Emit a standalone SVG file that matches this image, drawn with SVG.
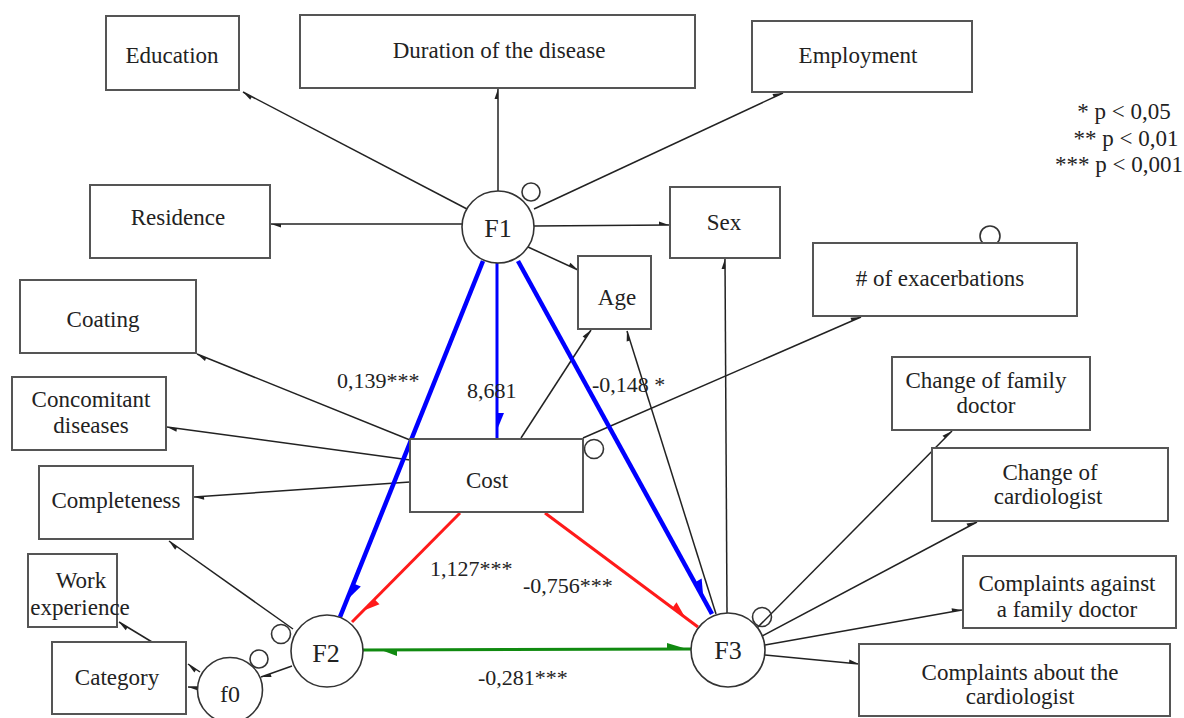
<svg xmlns="http://www.w3.org/2000/svg" width="1184" height="718" viewBox="0 0 1184 718">
<style>
.box{fill:#fff;stroke:#555;stroke-width:2}
.circ{fill:#fff;stroke:#333;stroke-width:1.6}
.loop{fill:none;stroke:#333;stroke-width:1.6}
.t{font-family:"Liberation Serif","Times New Roman",serif;font-size:23px;fill:#222;text-anchor:middle}
.c{font-size:26px}
.lbl{font-family:"Liberation Serif","Times New Roman",serif;font-size:22px;fill:#222}
.ln{stroke:#222;stroke-width:1.5;fill:none;marker-end:url(#ah)}
.blue{stroke:#0000ff;stroke-width:4.5;fill:none}
.blue2{stroke:#0000ff;stroke-width:3;fill:none}
.red{stroke:#ff1a1a;stroke-width:3;fill:none}
.green{stroke:#108a10;stroke-width:3;fill:none}
</style>
<defs>
<marker id="ah" markerUnits="userSpaceOnUse" orient="auto" overflow="visible" markerWidth="10" markerHeight="10" refX="0" refY="0"><path d="M0,0 L-10,-3.5 L-10,0 z" fill="#222"/></marker>
<marker id="bb" markerUnits="userSpaceOnUse" orient="auto" overflow="visible" markerWidth="10" markerHeight="10" refX="0" refY="0"><path d="M-18,0 L-36,-8 L-36,0 z" fill="#0000ff"/></marker>
<marker id="bm" markerUnits="userSpaceOnUse" orient="auto" overflow="visible" markerWidth="10" markerHeight="10" refX="0" refY="0"><path d="M-8,0 L-25,-7 L-25,0 z" fill="#0000ff"/></marker>
<marker id="rm" markerUnits="userSpaceOnUse" orient="auto" overflow="visible" markerWidth="10" markerHeight="10" refX="0" refY="0"><path d="M-16,0 L-32,-7 L-32,0 z" fill="#ff1a1a"/></marker>
<marker id="ge" markerUnits="userSpaceOnUse" orient="auto" overflow="visible" markerWidth="10" markerHeight="10" refX="0" refY="0"><path d="M-4,0 L-24,-6 L-24,0 z" fill="#108a10"/></marker>
<marker id="gs" markerUnits="userSpaceOnUse" orient="auto-start-reverse" overflow="visible" markerWidth="10" markerHeight="10" refX="0" refY="0"><path d="M-18,0 L-34,-6 L-34,0 z" fill="#108a10"/></marker>
</defs>

<g id="connectors">
<line class="ln" x1="467" y1="209" x2="243" y2="92"/>
<line class="ln" x1="498" y1="191" x2="498" y2="89"/>
<line class="ln" x1="534" y1="209" x2="783" y2="93"/>
<line class="ln" x1="462" y1="224" x2="271" y2="224"/>
<line class="ln" x1="534" y1="226" x2="669" y2="225"/>
<line class="ln" x1="528" y1="247" x2="578" y2="270"/>
<line class="ln" x1="410" y1="440" x2="197" y2="354"/>
<line class="ln" x1="410" y1="460" x2="167" y2="427"/>
<line class="ln" x1="410" y1="482" x2="194" y2="497"/>
<line class="ln" x1="521" y1="438" x2="591" y2="330"/>
<line class="ln" x1="583" y1="438" x2="861" y2="317"/>
<line class="ln" x1="716" y1="614" x2="627" y2="331"/>
<line class="ln" x1="727" y1="613" x2="725" y2="259"/>
<line class="ln" x1="757" y1="628" x2="952" y2="431"/>
<line class="ln" x1="762" y1="636" x2="977" y2="522"/>
<line class="ln" x1="765" y1="645" x2="962" y2="610"/>
<line class="ln" x1="765" y1="655" x2="859" y2="664"/>
<line class="ln" x1="293" y1="629" x2="169" y2="541"/>
<line class="ln" x1="152" y1="642" x2="119" y2="622"/>
<line class="ln" x1="292" y1="666" x2="261" y2="677"/>
<line class="ln" x1="200" y1="672" x2="188" y2="664"/>
<line class="ln" x1="198" y1="687" x2="188" y2="687"/>
<line class="blue" x1="483" y1="261" x2="340" y2="617" marker-end="url(#bb)"/>
<line class="blue" x1="518" y1="261" x2="712" y2="614" marker-end="url(#bb)"/>
<line class="blue2" x1="497" y1="263" x2="497" y2="438" marker-end="url(#bm)"/>
<line class="red" x1="460" y1="513" x2="352" y2="622" marker-end="url(#rm)"/>
<line class="red" x1="545" y1="513" x2="698" y2="627" marker-end="url(#rm)"/>
<line class="green" x1="363" y1="650" x2="691" y2="649" marker-start="url(#gs)" marker-end="url(#ge)"/>
</g>

<g id="loops">
<circle class="loop" cx="531" cy="192" r="9"/>
<circle class="loop" cx="594" cy="449" r="9.5"/>
<circle class="loop" cx="990" cy="236" r="10"/>
<circle class="loop" cx="762" cy="617" r="9.5"/>
<circle class="loop" cx="281" cy="634" r="9.5"/>
<circle class="loop" cx="259" cy="659" r="9"/>
</g>

<g id="education"><rect class="box" x="106" y="16" width="133" height="74"/><text class="t" x="172" y="63">Education</text></g>
<g id="duration"><rect class="box" x="300" y="15" width="395" height="73"/><text class="t" x="499" y="58">Duration of the disease</text></g>
<g id="employment"><rect class="box" x="752" y="21" width="220" height="71"/><text class="t" x="858" y="63">Employment</text></g>
<g id="legend">
<text class="t" x="1124" y="119">* p &lt; 0,05</text>
<text class="t" x="1126" y="146">** p &lt; 0,01</text>
<text class="t" x="1119" y="172">*** p &lt; 0,001</text>
</g>
<g id="residence"><rect class="box" x="90" y="185" width="180" height="73"/><text class="t" x="178" y="225">Residence</text></g>
<g id="sex"><rect class="box" x="670" y="187" width="110" height="71"/><text class="t" x="724" y="230">Sex</text></g>
<g id="age"><rect class="box" x="578" y="256" width="73" height="73"/><text class="t" x="617" y="305">Age</text></g>
<g id="exacerbations"><rect class="box" x="813" y="243" width="264" height="73"/><text class="t" x="940" y="286"># of exacerbations</text></g>
<g id="coating"><rect class="box" x="20" y="280" width="176" height="73"/><text class="t" x="103" y="327">Coating</text></g>
<g id="concomitant"><rect class="box" x="12" y="377" width="154" height="73"/><text class="t" x="91" y="407">Concomitant</text><text class="t" x="91" y="433">diseases</text></g>
<g id="completeness"><rect class="box" x="39" y="466" width="154" height="73"/><text class="t" x="116" y="508">Completeness</text></g>
<g id="work"><rect class="box" x="28" y="554" width="89" height="73"/><text class="t" x="81" y="588">Work</text><text class="t" x="80" y="615">experience</text></g>
<g id="category"><rect class="box" x="52" y="642" width="134" height="72"/><text class="t" x="117" y="685">Category</text></g>
<g id="cost"><rect class="box" x="410" y="439" width="173" height="73"/><text class="t" x="487" y="488">Cost</text></g>
<g id="family-change"><rect class="box" x="892" y="357" width="198" height="73"/><text class="t" x="986" y="388">Change of family</text><text class="t" x="986" y="413">doctor</text></g>
<g id="cardio-change"><rect class="box" x="932" y="448" width="236" height="73"/><text class="t" x="1050" y="480">Change of</text><text class="t" x="1048" y="504">cardiologist</text></g>
<g id="complaints-family"><rect class="box" x="963" y="556" width="213" height="72"/><text class="t" x="1067" y="591">Complaints against</text><text class="t" x="1067" y="617">a family doctor</text></g>
<g id="complaints-cardio"><rect class="box" x="859" y="644" width="311" height="72"/><text class="t" x="1020" y="680">Complaints about the</text><text class="t" x="1020" y="704">cardiologist</text></g>

<g id="F1"><circle class="circ" cx="498" cy="227" r="36"/><text class="t c" x="498" y="237">F1</text></g>
<g id="F2"><circle class="circ" cx="327" cy="651" r="36"/><text class="t c" x="326" y="662">F2</text></g>
<g id="F3"><circle class="circ" cx="728" cy="650" r="37"/><text class="t c" x="728" y="659">F3</text></g>
<g id="f0"><circle class="circ" cx="230" cy="690" r="32.5"/><text class="t" x="230" y="702" style="font-size:24px">f0</text></g>

<g id="labels">
<text class="lbl" x="337" y="388">0,139***</text>
<text class="lbl" x="467" y="398">8,681</text>
<text class="lbl" x="592" y="392">-0,148 *</text>
<text class="lbl" x="430" y="576">1,127***</text>
<text class="lbl" x="523" y="593">-0,756***</text>
<text class="lbl" x="478" y="685">-0,281***</text>
</g>
</svg>
